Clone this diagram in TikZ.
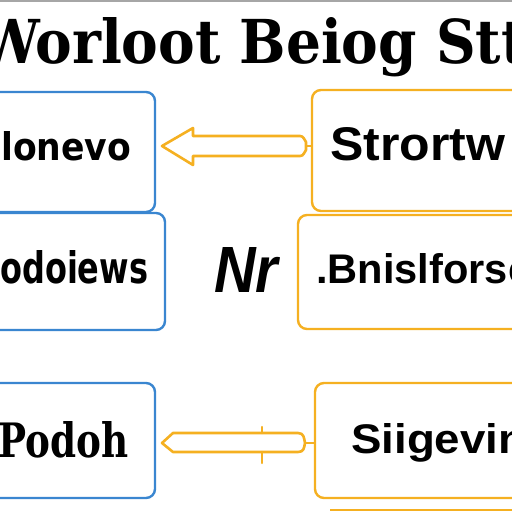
\documentclass[tikz,border=0pt]{standalone}
\usepackage{fontspec}
\usepackage{graphicx}
\setmainfont{DejaVu Serif}
\newfontfamily\boxsans{Liberation Sans}
\newfontfamily\boxsansb{DejaVu Sans}
\newfontfamily\titleserif{DejaVu Serif}
\usetikzlibrary{calc}
\definecolor{boxblue}{HTML}{3A86D0}
\definecolor{boxorange}{HTML}{F5B021}
\tikzset{
  bluebox/.style={draw=boxblue, line width=2.4pt, rounded corners=9pt, inner sep=0pt},
  orangebox/.style={draw=boxorange, line width=2.4pt, rounded corners=9pt, inner sep=0pt},
  lbl/.style={anchor=base west, inner sep=0pt, text=black},
  hollowarrow/.style={draw=boxorange, line width=2.6pt, line join=round, fill=white},
}
\begin{document}
\begin{tikzpicture}[x=1pt,y=-1pt]
\useasboundingbox (0,0) rectangle (512,512);
\clip (0,0) rectangle (512,512);
\fill[white] (0,0) rectangle (512,512);
\draw[gray!70, line width=2pt] (0,1) -- (512,1);

% title
\node[lbl] (title) at (-22,63) {\resizebox{548pt}{46pt}{\titleserif\bfseries Worloot Beiog Stt}};

% boxes (left, blue)
\path[bluebox] (-20,92) rectangle (155,212);
\path[bluebox] (-20,213) rectangle (165,330);
\path[bluebox] (-20,383) rectangle (155,498);

% boxes (right, orange)
\path[orangebox] (312,90) rectangle (540,211);
\coordinate (rb1w) at (312,146);
\path[orangebox] (298,215) rectangle (540,329);
\path[orangebox] (315,383) rectangle (540,498);
\coordinate (rb3w) at (315,443);
\draw[boxorange, line width=2.4pt] (330,510) -- (540,510);

% labels
\node[lbl] (t1) at (1,160) {\resizebox{130pt}{29pt}{\boxsansb\bfseries lonevo}};
\node[lbl] (t2) at (0,283) {\resizebox{148pt}{33pt}{\boxsansb\bfseries odoiews}};
\node[lbl] (t3) at (-2,457) {\resizebox{130pt}{36pt}{\titleserif\bfseries Podoh}};
\node[lbl] (t4) at (330,160) {\resizebox{175pt}{33pt}{\boxsans\bfseries Strortw}};
\node[lbl] (t5) at (316,283) {\resizebox{215pt}{30pt}{\boxsans\bfseries .Bnislforsc}};
\node[lbl] (t6) at (351,453) {\resizebox{175pt}{30pt}{\boxsans\bfseries Siigevin}};
\node[lbl] (nr) at (214,292) {\resizebox{64pt}{45pt}{\boxsans\bfseries\itshape Nr}};

% top hollow arrow (points left)
\draw[hollowarrow] (162,146) -- (193,128) -- (193,136) -- (300,136)
  .. controls (304,136) and (304,140) .. (306,142) -- (306,150)
  .. controls (304,152) and (304,156) .. (300,156) -- (193,156) -- (193,165) -- cycle;
\draw[boxorange, line width=2.4pt] (306,146) -- (rb1w);

% bottom hollow arrow
\draw[hollowarrow] (162,443) -- (173,433) -- (298,433)
  .. controls (304,433) and (304,438) .. (305,443)
  .. controls (304,448) and (304,452) .. (298,452) -- (173,452) -- cycle;
\draw[boxorange, line width=2.4pt] (305,443) -- (rb3w);
\draw[boxorange, line width=2.4pt, line cap=round] (262,427) -- (262,433);
\draw[boxorange, line width=2.4pt, line cap=round] (262,452) -- (262,463);
\end{tikzpicture}
\end{document}
